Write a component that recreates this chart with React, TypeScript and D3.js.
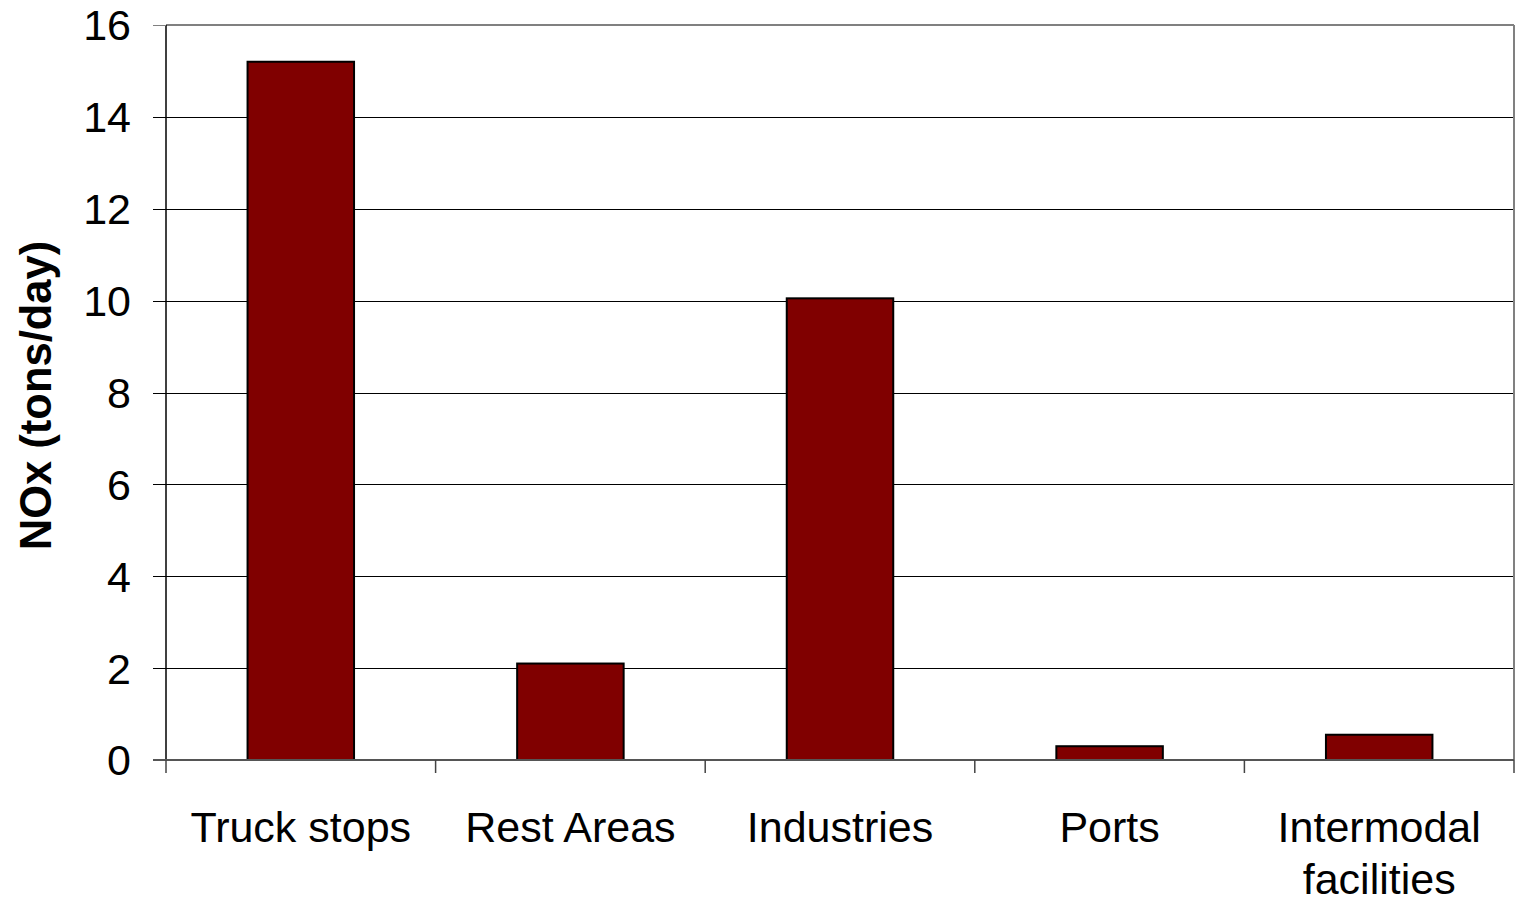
import React from "react";
import * as d3 from "d3";

const categories: string[][] = [
  ["Truck stops"],
  ["Rest Areas"],
  ["Industries"],
  ["Ports"],
  ["Intermodal", "facilities"],
];
const values: number[] = [15.2, 2.1, 10.05, 0.3, 0.55];
const yTicks: number[] = [0, 2, 4, 6, 8, 10, 12, 14, 16];
const yTitle = "NOx (tons/day)";

const W = 1516;
const H = 905;
const M = { left: 166, right: 1514, top: 25, bottom: 760 };
const FONT = "Arial, 'Liberation Sans', sans-serif";

export default function App() {
  const x = d3
    .scaleBand<number>()
    .domain(values.map((_, i) => i))
    .range([M.left, M.right]);
  const band = x.step();
  const y = d3.scaleLinear().domain([0, 16]).range([M.bottom, M.top]);
  const barW = band * 0.395;

  return (
    <svg
      width={W}
      height={H}
      style={{ position: "absolute", left: 0, top: 0, background: "#fff" }}
      fontFamily={FONT}
    >
      {/* gridlines */}
      {yTicks.filter((t) => t > 0 && t < 16).map((t) => (
        <line key={t} x1={M.left} x2={M.right} y1={Math.round(y(t)) + 0.5} y2={Math.round(y(t)) + 0.5} stroke="#000" strokeWidth={1} />
      ))}
      {/* plot border top/right */}
      <line x1={M.left} x2={M.right} y1={M.top} y2={M.top} stroke="#808080" strokeWidth={2} />
      <line x1={M.right} x2={M.right} y1={M.top} y2={M.bottom} stroke="#808080" strokeWidth={2} />
      {/* bars */}
      {values.map((v, i) => {
        const cx = (x(i) as number) + band / 2;
        return (
          <rect
            key={i}
            x={cx - barW / 2}
            y={y(v)}
            width={barW}
            height={y(0) - y(v)}
            fill="#800000"
            stroke="#000"
            strokeWidth={2}
          />
        );
      })}
      {/* y axis */}
      <line x1={M.left} x2={M.left} y1={M.top} y2={M.bottom} stroke="#000" strokeWidth={1.5} />
      {yTicks.map((t) => (
        <g key={t}>
          <line x1={M.left - 13} x2={M.left} y1={Math.round(y(t)) + 0.5} y2={Math.round(y(t)) + 0.5} stroke={t === 16 ? "#808080" : "#000"} strokeWidth={1} />
          <text x={131} y={y(t)} dy="0.36em" textAnchor="end" fontSize={43} fill="#000">
            {t}
          </text>
        </g>
      ))}
      {/* x axis */}
      <line x1={M.left - 13} x2={M.right} y1={M.bottom} y2={M.bottom} stroke="#555" strokeWidth={2} />
      {d3.range(values.length + 1).map((i) => (
        <line
          key={i}
          x1={M.left + band * i}
          x2={M.left + band * i}
          y1={M.bottom}
          y2={M.bottom + 13}
          stroke="#444"
          strokeWidth={1.5}
        />
      ))}
      {categories.map((lines, i) => (
        <text key={i} y={842} textAnchor="middle" fontSize={43} fill="#000">
          {lines.map((l, j) => (
            <tspan key={j} x={(x(i) as number) + band / 2} dy={j === 0 ? 0 : 52}>
              {l}
            </tspan>
          ))}
        </text>
      ))}
      {/* y title */}
      <text
        transform={`translate(51, ${(M.top + M.bottom) / 2 + 3}) rotate(-90)`}
        textAnchor="middle"
        fontSize={43.5}
        fontWeight="bold"
        fill="#000"
      >
        {yTitle}
      </text>
    </svg>
  );
}
